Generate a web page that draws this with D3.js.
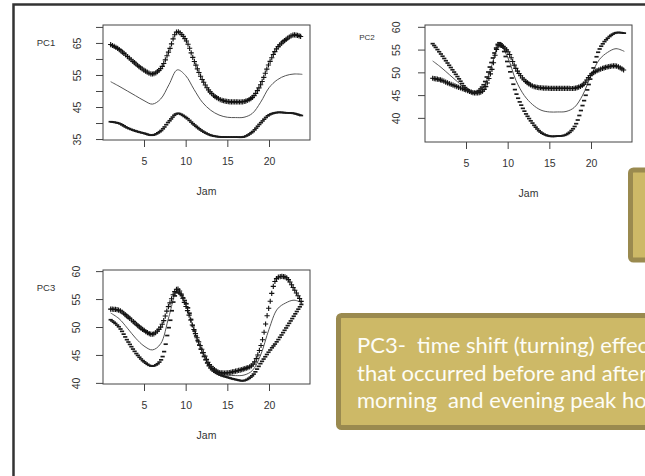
<!DOCTYPE html>
<html>
<head>
<meta charset="utf-8">
<script src="https://cdn.jsdelivr.net/npm/d3@7"></script>
<style>
  body { margin: 0; background: #fff; }
  svg { display: block; }
  .tick text, .axlab { font-family: "Liberation Sans", Arial, sans-serif; fill: #333; }
  .tick line { stroke: #444; }
  .note { font-family: Lato, "Open Sans", sans-serif; fill: #fdfdf6; white-space: pre; }
</style>
</head>
<body>
<svg width="645" height="476"></svg>
<script>
// hours of the day (x) and the three principal component plots
const hours = [1, 2, 3, 4, 5, 6, 7, 8, 9, 10, 11, 12, 13, 14, 15, 16, 17, 18, 19, 20, 21, 22, 23, 24];
const xTicks = [5, 10, 15, 20];

// PC1 : mean, mean + pc ('+'), mean - pc ('-')
const pc1Mean  = [52.9, 51.5, 50.0, 48.5, 47.0, 45.9, 47.5, 52.0, 56.6, 54.8, 50.5, 46.5, 44.0, 42.5, 41.8, 41.7, 41.8, 43.0, 46.5, 51.0, 53.5, 54.8, 55.3, 55.2];
const pc1Plus  = [64.5, 63.0, 60.8, 58.5, 56.5, 55.3, 57.0, 62.5, 68.5, 66.0, 59.5, 53.5, 49.5, 47.5, 46.7, 46.6, 46.7, 48.0, 52.0, 58.5, 63.5, 66.0, 67.5, 66.8];
const pc1Minus = [40.4, 39.9, 38.5, 37.5, 36.8, 36.2, 37.5, 40.5, 43.0, 41.8, 39.5, 37.5, 36.2, 35.7, 35.6, 35.6, 35.7, 37.2, 40.0, 42.5, 43.3, 43.2, 43.0, 42.2];

// PC2
const pc2Mean  = [52.5, 51.1, 49.5, 47.9, 46.3, 45.5, 46.5, 51.0, 56.2, 53.3, 48.2, 44.9, 42.9, 41.7, 41.3, 41.3, 41.4, 42.3, 45.0, 49.3, 52.8, 54.4, 55.2, 54.6];
const pc2Plus  = [48.7, 48.3, 47.5, 46.8, 46.1, 45.5, 45.9, 50.0, 56.0, 54.6, 50.8, 48.3, 47.0, 46.6, 46.5, 46.5, 46.5, 46.5, 47.2, 49.5, 50.6, 51.2, 51.4, 50.4];
const pc2Minus = [56.3, 54.0, 51.5, 49.0, 46.5, 45.5, 47.0, 52.0, 56.5, 52.0, 45.5, 41.5, 38.8, 36.8, 36.0, 36.0, 36.3, 38.0, 42.8, 49.0, 55.0, 57.5, 58.7, 58.6];

// PC3
const pc3Mean  = [52.5, 51.5, 49.8, 48.0, 46.6, 45.9, 47.0, 51.9, 56.5, 54.1, 49.5, 45.5, 42.8, 41.7, 41.4, 41.3, 41.4, 42.2, 45.0, 49.6, 53.2, 54.3, 54.8, 54.3];
const pc3Plus  = [53.2, 53.0, 51.9, 50.6, 49.4, 48.7, 50.0, 53.9, 56.8, 53.8, 49.5, 45.8, 43.0, 41.9, 41.8, 42.1, 42.5, 43.2, 46.5, 53.6, 58.8, 58.9, 56.8, 54.2];
const pc3Minus = [51.3, 50.0, 47.6, 45.4, 43.8, 43.0, 44.0, 50.0, 56.2, 54.5, 49.5, 45.3, 42.6, 41.5, 41.0, 40.6, 40.4, 41.3, 43.5, 45.6, 47.5, 49.7, 52.0, 54.3];

const pc1Ticks = [35, 40, 45, 50, 55, 60, 65, 70];
const pc1TickLabels = [35, 45, 55, 65];
const pc2Ticks = [40, 45, 50, 55, 60];
const pc3Ticks = [40, 45, 50, 55, 60];

const xTitle = 'Jam';
const noteLines = [
  'PC3-  time shift (turning) effect',
  'that occurred before and after the',
  'morning  and evening peak hours'
];

const svg = d3.select('svg');

// slide frame
svg.append('rect')
  .attr('x', 13.5).attr('y', 4.5)
  .attr('width', 700).attr('height', 520)
  .attr('fill', 'none')
  .attr('stroke', '#333')
  .attr('stroke-width', 2.5);

const panels = [
  { name: 'PC1', mean: pc1Mean, plus: pc1Plus, minus: pc1Minus, yDomain: [34.7, 70.6],
    yTicks: pc1Ticks, yLabels: pc1TickLabels, x0: 103, x1: 310, y0: 25, y1: 140,
    nameX: 46, nameY: 43, nameSize: 9.5, labOff: 26 },
  { name: 'PC2', mean: pc2Mean, plus: pc2Plus, minus: pc2Minus, yDomain: [34.7, 60.4],
    yTicks: pc2Ticks, yLabels: pc2Ticks, x0: 425, x1: 632, y0: 25, y1: 142,
    nameX: 367, nameY: 37, nameSize: 8, labOff: 29 },
  { name: 'PC3', mean: pc3Mean, plus: pc3Plus, minus: pc3Minus, yDomain: [39.8, 60.2],
    yTicks: pc3Ticks, yLabels: pc3Ticks, x0: 103, x1: 310, y0: 270, y1: 384,
    nameX: 46, nameY: 288, nameSize: 9.5, labOff: 27 }
];

// pick points along a drawn curve at even x steps (like R's evaluation grid)
function sampleByX(node, step) {
  const len = node.getTotalLength();
  const pts = [];
  let nextX = -Infinity;
  for (let l = 0; l <= len; l += 0.4) {
    const p = node.getPointAtLength(l);
    if (p.x >= nextX) { pts.push(p); nextX = p.x + step; }
  }
  return pts;
}

panels.forEach(p => {
  const x = d3.scaleLinear().domain([0.08, 24.92]).range([p.x0, p.x1]);
  const y = d3.scaleLinear().domain(p.yDomain).range([p.y1, p.y0]);
  const g = svg.append('g');

  const line = d3.line()
    .x((d, i) => x(hours[i]))
    .y(d => y(d))
    .curve(d3.curveCatmullRom.alpha(0.5));

  // x axis
  const xa = g.append('g')
    .attr('transform', `translate(0,${p.y1})`)
    .call(d3.axisBottom(x).tickValues(xTicks).tickSize(7).tickPadding(11));
  xa.select('.domain').remove();
  xa.selectAll('text').style('font-size', '10.5px');

  // y axis, labels turned like R's las=0
  const ya = g.append('g')
    .attr('transform', `translate(${p.x0},0)`)
    .call(d3.axisLeft(y).tickValues(p.yTicks).tickSize(7)
      .tickFormat(d => p.yLabels.includes(d) ? d : ''));
  ya.select('.domain').remove();
  ya.selectAll('text')
    .attr('transform', 'rotate(-90)')
    .attr('x', 0)
    .attr('y', -p.labOff)
    .attr('dy', '0.35em')
    .attr('text-anchor', 'middle')
    .style('font-size', '10.5px');

  // plot box
  g.append('rect')
    .attr('x', p.x0).attr('y', p.y0)
    .attr('width', p.x1 - p.x0).attr('height', p.y1 - p.y0)
    .attr('fill', 'none')
    .attr('stroke', '#444');

  // mean curve
  g.append('path')
    .attr('d', line(p.mean))
    .attr('fill', 'none')
    .attr('stroke', '#555')
    .attr('stroke-width', 1);

  // '+' and '-' curves
  [['plus', 'M-2.6,0h5.2M0,-2.6v5.2', 1.1, '#111'],
   ['minus', 'M-2.1,0h4.2', 1.7, '#1a1a1a']].forEach(([key, glyph, sw, col]) => {
    const guide = g.append('path')
      .attr('d', line(p[key]))
      .attr('fill', 'none')
      .attr('stroke', 'none');
    const pts = sampleByX(guide.node(), 1.5);
    g.append('g').selectAll('path')
      .data(pts)
      .enter()
      .append('path')
      .attr('transform', d => `translate(${d.x},${d.y})`)
      .attr('d', glyph)
      .attr('stroke', col)
      .attr('stroke-width', sw);
  });

  // titles
  g.append('text')
    .attr('class', 'axlab')
    .attr('x', (p.x0 + p.x1) / 2)
    .attr('y', p.y1 + 51)
    .attr('dy', '0.35em')
    .attr('text-anchor', 'middle')
    .style('font-size', '10.5px')
    .text(xTitle);

  g.append('text')
    .attr('class', 'axlab')
    .attr('x', p.nameX)
    .attr('y', p.nameY)
    .attr('dy', '0.35em')
    .attr('text-anchor', 'middle')
    .style('font-size', p.nameSize + 'px')
    .text(p.name);
});

// gold note boxes (they run off the right edge of the slide view)
svg.append('rect')
  .attr('x', 630.5).attr('y', 170)
  .attr('width', 100).attr('height', 90)
  .attr('rx', 3)
  .attr('fill', '#cdb967')
  .attr('stroke', '#9a8a4f')
  .attr('stroke-width', 5);

svg.append('rect')
  .attr('x', 338.5).attr('y', 315.5)
  .attr('width', 400).attr('height', 112)
  .attr('rx', 3)
  .attr('fill', '#cdb967')
  .attr('stroke', '#9a8a4f')
  .attr('stroke-width', 5);

svg.append('g').selectAll('text')
  .data(noteLines)
  .enter()
  .append('text')
  .attr('class', 'note')
  .attr('x', 357)
  .attr('y', (d, i) => 353 + i * 27.5)
  .style('font-size', '22px')
  .text(d => d);
</script>
</body>
</html>
